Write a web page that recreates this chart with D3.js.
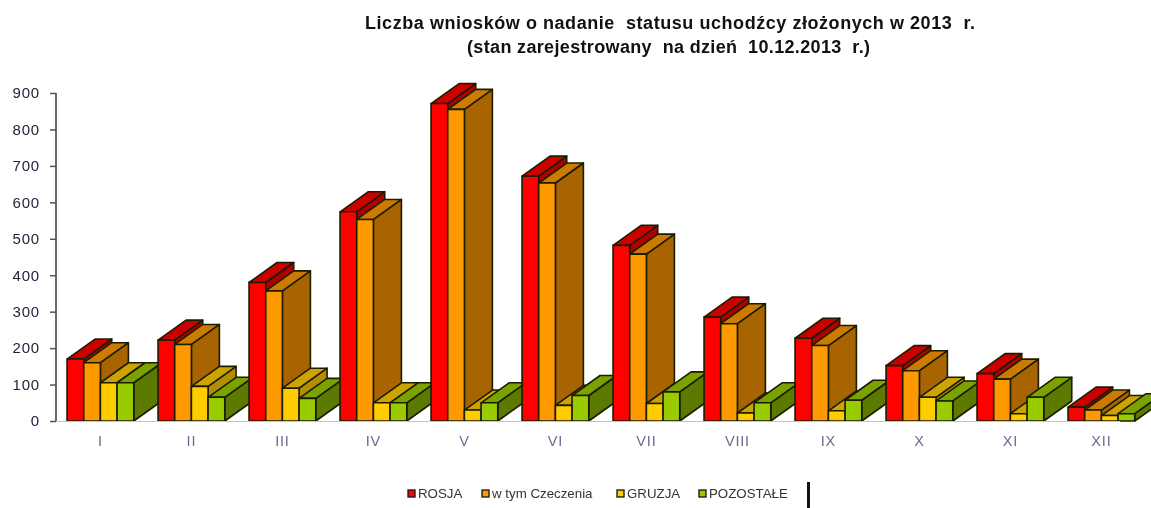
<!DOCTYPE html>
<html><head><meta charset="utf-8">
<script src="https://cdn.jsdelivr.net/npm/d3@7"></script>
<style>
html,body{margin:0;padding:0;background:#fff;overflow:hidden}
svg{display:block;filter:blur(.5px)}
text{font-family:"Liberation Sans",Arial,sans-serif}
</style></head><body>
<svg id="c" width="1151" height="508"></svg>
<script>
const months = ["I","II","III","IV","V","VI","VII","VIII","IX","X","XI","XII"];
const seriesNames = ["ROSJA","w tym Czeczenia","GRUZJA","POZOSTAŁE"];
const rosja     = [170,222,380,574,871,672,482,285,227,152,130,38];
const czeczenia = [160,210,357,553,855,653,458,267,207,138,115,30];
const gruzja    = [105, 95, 90, 50, 30, 43, 48, 22, 28, 65, 20,15];
const pozostale = [105, 65, 62, 50, 50, 70, 80, 50, 57, 55, 65,20];
const yTicks = [0,100,200,300,400,500,600,700,800,900];
const titleLines = ["Liczba wniosków o nadanie  statusu uchodźcy złożonych w 2013  r.","(stan zarejestrowany  na dzień  10.12.2013  r.)"];

const frontColors = ["#ff0000","#ff9900","#ffcc00","#99cc00"];
const topColors   = ["#cc0000","#cc7a00","#cca300","#7aa300"];
const sideColors  = ["#b00000","#a86400","#b38f00","#5c7a00"];
const series = [rosja,czeczenia,gruzja,pozostale];
const depthX = 28, depthY = 20;

const svg = d3.select("#c");
const x = d3.scaleBand().domain(months).range([54.9,1146.9]).paddingInner(.267).paddingOuter(.1335);
const inner = d3.scaleBand().domain(d3.range(4)).range([0,x.bandwidth()]);
const y = d3.scaleLinear().domain([0,900]).range([421,93]);

// bars
const stroke = "#1c1c00";
months.forEach((m,i)=>{
  const g = svg.append("g");
  series.forEach((s,k)=>{
    const x0 = x(m)+inner(k), w = inner.bandwidth(), y0 = y(0), yt = y(s[i]);
    const x1 = x0+w;
    const b = g.append("g").attr("stroke",stroke).attr("stroke-width",1.6).attr("stroke-linejoin","round");
    b.append("polygon").attr("fill",sideColors[k])
      .attr("points",[[x1,yt],[x1+depthX,yt-depthY],[x1+depthX,y0-depthY],[x1,y0]].join(" "));
    b.append("polygon").attr("fill",topColors[k])
      .attr("points",[[x0,yt],[x0+depthX,yt-depthY],[x1+depthX,yt-depthY],[x1,yt]].join(" "));
    b.append("rect").attr("x",x0).attr("y",yt).attr("width",w).attr("height",y0-yt).attr("fill",frontColors[k]);
  });
});

// y axis
const ya = d3.axisLeft(y).tickValues(yTicks).tickSize(6).tickPadding(10).tickFormat(d3.format("d"));
const yg = svg.append("g").attr("transform","translate(56,0)").call(ya);
yg.select(".domain").attr("stroke","#6a6a6a").attr("stroke-width",2).attr("d","M0,93V421");
yg.selectAll(".tick line").attr("stroke","#555").attr("stroke-width",1.5);
yg.selectAll("text").attr("font-size",15).attr("fill","#22263a").attr("letter-spacing",.8);

// x axis labels
const xa = d3.axisBottom(x).tickSize(0).tickPadding(15);
const xg = svg.append("g").attr("transform","translate(0,421)").call(xa);
xg.select(".domain").attr("stroke","#c4c4c4").attr("stroke-width",1).attr("d","M56,0.5H1120");
xg.selectAll("text").attr("font-size",14.5).attr("fill","#6c6890").attr("letter-spacing",.8);

// title
const titleLengths = [610,403];
svg.append("g").selectAll("text").data(titleLines).join("text")
  .attr("x",(d,i)=>i?668.5:670).attr("y",(d,i)=>29+i*23.5)
  .attr("text-anchor","middle").attr("font-size",18).attr("font-weight","bold").attr("fill","#111")
  .attr("textLength",(d,i)=>titleLengths[i]).attr("lengthAdjust","spacing")
  .style("white-space","pre").text(d=>d);

// legend
const legendSwatchX = [408,482,617,699];
const lg = svg.append("g").selectAll("g").data(seriesNames).join("g")
  .attr("transform",(d,i)=>`translate(${legendSwatchX[i]},490)`);
lg.append("rect").attr("width",7).attr("height",7)
  .attr("fill",(d,i)=>frontColors[i]).attr("stroke","#111").attr("stroke-width",1.3);
lg.append("text").attr("x",10).attr("y",8).attr("font-size",13.3).attr("fill","#333").text(d=>d);

// stray mark right of the legend
svg.append("line").attr("x1",808.5).attr("x2",808.5).attr("y1",482).attr("y2",508)
  .attr("stroke","#111").attr("stroke-width",3);
</script>
</body></html>
